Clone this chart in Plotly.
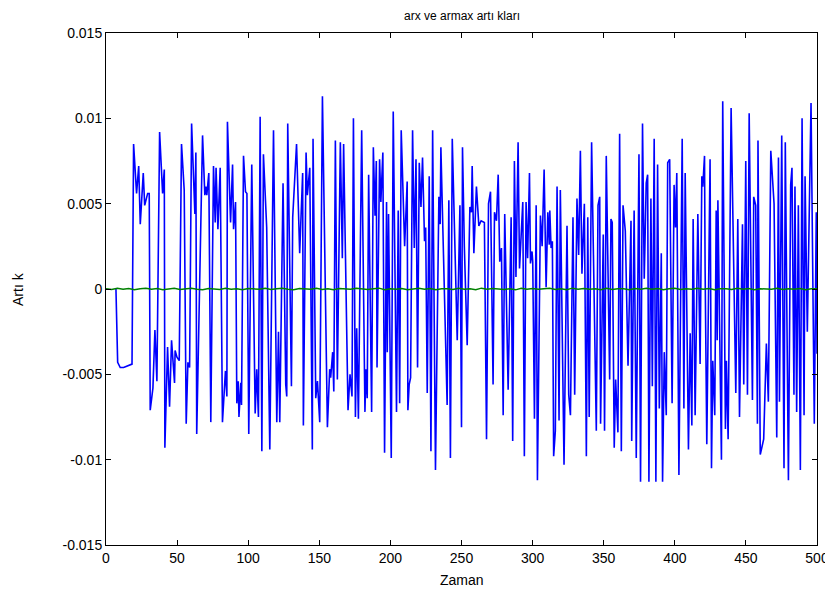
import plotly.graph_objects as go

# Blue series (arx residuals): time and residual vertices
blue_t = [7, 8.2, 10, 12.4, 18.3, 19.4, 21.5, 23, 24.1, 26.2, 27.2, 29.3, 30.4, 31.1, 33, 34.4, 35.8, 37.7, 39.8, 41,
          41.4, 43.3, 44.7, 46.1, 48.2, 48.6, 49.9, 51.5, 53.1, 55, 56.4, 57.6, 58.8, 60.2, 62.5, 63.2, 63.8, 67.9, 69.5, 70.2,
          70.9, 72.3, 73.7, 75.6, 76.8, 77.4, 78.7, 80.3, 81.9, 84, 85, 85.4, 87.6, 89, 89.7, 91.1, 92, 93, 93.5, 94.8,
          95.3, 96.7, 98.1, 99.1, 100.4, 102.5, 104.9, 106, 107.2, 108.4, 109.6, 110.7, 113, 115.2, 117.8, 120.1, 121.3, 122.2, 124.5, 126.4,
          127.1, 127.8, 130.4, 131.3, 134, 136.2, 138.3, 138.8, 140.7, 141.6, 143.3, 145.1, 145.6, 147.5, 148.7, 150.3, 152.2, 153.4, 155.7, 157.3,
          158, 159.4, 160.2, 161.3, 162.7, 164.8, 166.2, 167.1, 170.2, 171.6, 173, 174, 175.4, 176.3, 177.5, 179.8, 182.1, 182.8, 183.7, 184.7,
          186.8, 188, 189.2, 190.1, 190.6, 192.4, 193.3, 194.7, 195.9, 197.3, 197.8, 198.7, 200.6, 202, 204.3, 205.5, 206.5, 207.6, 210, 211.8,
          212.3, 213.2, 214.2, 215.6, 216.8, 218, 219.1, 220.3, 221.5, 222.6, 224, 224.8, 225.9, 227.3, 228.5, 229.7, 231.7, 234.1, 235, 235.5,
          237.6, 239.9, 241.1, 242.2, 243.5, 245.8, 247, 248.9, 250, 250.7, 252, 254, 255.9, 257, 257.5, 258.7, 260.5, 262.2, 263.8, 266.1,
          267.6, 269, 270.4, 272.2, 273.2, 274.6, 275.8, 276.9, 278.1, 279.3, 280.4, 282.8, 284.9, 286, 287.2, 288.3, 289.8, 290.8, 293.1, 294.2,
          295.4, 296.5, 297.8, 298.5, 299.6, 300.1, 301.3, 302.5, 303.4, 305.5, 306.7, 308.1, 309.5, 310.7, 311.7, 312.1, 313, 313.9, 314.8, 316,
          317.2, 318.6, 319.5, 322.1, 324.2, 325.4, 326.6, 328.4, 329.6, 331.2, 332.4, 333.6, 334.7, 336.4, 337.8, 338.8, 339.8, 341.5, 344.8, 346,
          347.2, 347.8, 349.7, 350.6, 351.8, 354.2, 355.1, 356, 357.4, 358.4, 360, 361.2, 362.4, 363.6, 365.2, 367.1, 369.2, 369.7, 371.4, 372.9,
          374.8, 375.9, 377.3, 378.5, 379.9, 380.9, 381.8, 383.2, 384.2, 385.5, 386.7, 387.9, 389.1, 390.5, 391.4, 392.6, 394, 395, 396.4, 398.1,
          399.5, 400.5, 401.4, 402.9, 405.2, 406.4, 407.3, 409.6, 410.8, 412, 412.9, 414.3, 416.2, 417.8, 419, 419.7, 420.9, 421.3, 422.5, 424.8,
          425.8, 426.7, 428.1, 429.1, 429.8, 430.3, 432.8, 433.7, 435.6, 436.3, 437.5, 439.6, 442.9, 444.3, 445.5, 447.6, 448.5, 449.9, 451.1, 452.3,
          454.6, 455.5, 456.9, 458.1, 458.5, 460.1, 462.5, 464.4, 465.8, 467.5, 469.8, 471.7, 472.9, 473.6, 475.2, 476.8, 477.7, 479.9, 481.5, 482.4,
          483.8, 484.5, 485.7, 486.9, 488.3, 489.5, 490.9, 491.6, 493.2, 495.8, 498.1, 499.5, 500]
blue_r = [0, -0.0043, -0.0046, -0.0046, -0.0044, 0.0085, 0.0056, 0.0072, 0.0038, 0.0068, 0.0049, 0.0056, 0.0056, -0.0071, -0.0058, -0.0024, -0.0054, 0.0092, 0.0056, 0.007,
          -0.0093, -0.0034, -0.0069, -0.003, -0.0055, -0.0036, -0.004, -0.0042, 0.0085, 0.0058, -0.0079, -0.0043, -0.0046, 0.0097, 0.0044, 0.008, -0.0085, 0.009, 0.0055, 0.006,
          0.0055, 0.0068, -0.0078, 0.0072, 0.0039, 0.0071, 0.0035, 0.0071, -0.0078, -0.0048, -0.0063, 0.0098, 0.0039, 0.0073, 0.0035, 0.0051, -0.0067, -0.0054, -0.0075, -0.0055,
          -0.0068, 0.0078, 0.0057, 0.0056, -0.0085, 0.0073, -0.0073, -0.0047, -0.0075, 0.0101, -0.0095, 0.0079, 0.0036, -0.0094, 0.0093, -0.0078, -0.0025, -0.0078, 0.0062, -0.0056,
          -0.0063, 0.0097, -0.0057, 0.0042, 0.0085, 0.0021, 0.0068, -0.008, 0.008, 0.0055, 0.0071, -0.0094, 0.0088, -0.0064, -0.0054, -0.0078, 0.0113, 0.004, -0.0081, -0.0047,
          -0.0052, -0.0037, -0.006, 0.0087, -0.0053, 0.0086, 0.0018, 0.0085, -0.0071, -0.005, -0.0063, 0.01, -0.0075, -0.0023, -0.0076, 0.0093, -0.0072, -0.0047, -0.0064, 0.0067,
          -0.0072, 0.0083, 0.0043, 0.0075, -0.0046, 0.0076, 0.0051, 0.008, -0.0096, 0.0051, -0.0037, 0.0044, -0.0099, 0.0104, -0.0072, 0.0046, -0.0067, 0.0093, 0.0025, 0.0063,
          -0.0071, -0.0056, -0.0052, 0.0093, 0.0024, 0.0076, -0.0046, 0.0074, 0.0048, 0.0077, 0.0028, 0.0036, -0.0061, 0.0066, -0.0095, 0.0093, -0.0106, 0.0054, 0.0038, 0.0083,
          0.0015, -0.0068, 0.0052, -0.0099, 0.0088, 0.0013, -0.003, 0.0049, -0.0081, 0.0083, 0.0025, -0.0033, 0.0048, 0.0045, 0.0072, 0.0021, 0.006, 0.0037, 0.004, 0.0039,
          -0.0088, 0.005, 0.0057, -0.0056, 0.0045, 0.004, 0.0067, 0.0016, 0.0024, -0.0074, 0.0044, -0.0059, 0.0042, -0.0089, 0.0075, 0.0007, 0.0086, 0.0012, 0.0051, -0.0098,
          0.0051, 0.0018, 0.0068, 0.0015, 0.0022, 0.0016, -0.0076, 0.0049, -0.0112, 0.0043, 0.0025, 0.007, 0.0001, 0.0045, 0.0026, 0.0046, 0.0024, 0.0028, -0.0098, -0.0083,
          0.006, -0.0077, 0.0058, -0.0103, 0.0037, -0.0062, -0.0074, 0.0042, -0.0062, 0.0053, 0.002, 0.0081, 0.0009, 0.005, -0.0098, 0.0042, -0.0075, 0.0086, -0.0083, 0.0049,
          0.0054, -0.0079, 0.0032, -0.0083, 0.0078, -0.0053, 0.0041, 0.0039, -0.0093, -0.0053, -0.0084, 0.0091, -0.0095, 0.0049, 0.0034, -0.0045, 0.004, -0.0089, 0.0046, -0.0099,
          0.0079, -0.0113, 0.0097, 0.0006, 0.0062, 0.0067, -0.0113, 0.0053, -0.0057, 0.0088, -0.0113, 0.0073, -0.007, 0.0021, -0.0113, -0.0037, -0.0074, 0.0074, 0.0076, -0.0067,
          0.0061, 0.0036, 0.0068, -0.0109, 0.0088, -0.007, 0.0068, -0.0094, -0.0026, -0.008, 0.0041, -0.0074, 0.0044, -0.0044, 0.0066, 0.006, 0.0078, 0.0013, -0.0091, 0.0076,
          -0.0105, -0.0042, -0.0074, 0.0046, -0.003, 0.0052, -0.01, 0.011, -0.0082, -0.0042, -0.0088, 0.0106, -0.0061, 0.0041, -0.0075, 0.0038, -0.0056, 0.0075, -0.0062, 0.0103,
          -0.0065, 0.0054, 0.0049, -0.0079, 0.0087, -0.0097, -0.0088, -0.0032, -0.0066, 0.0081, 0.005, -0.0087, 0.0077, -0.0066, 0.009, -0.0105, 0.0086, -0.0112, 0.0061, 0.0071,
          -0.0062, 0.006, -0.0072, 0.0049, -0.0106, 0.01, -0.0074, 0.0066, -0.0025, 0.0109, -0.0079, 0.0045, -0.0038]

# Green series (armax residuals): tiny wiggle around zero, sampled every 4 steps
green_t = list(range(0, 501, 4))
green_r = [0.00002, -0.00003, 0.00004, -0.00001, 0.00003, -0.00004, 0.00001, 0.00005, -0.00002, 0.00003,
           -0.00004, 0.00002, 0.00004, -0.00003, 0.00001, 0.00005, -0.00002, -0.00004, 0.00003, 0.00001,
           -0.00003, 0.00004, -0.00001, 0.00002, -0.00005, 0.00003, 0.00001, -0.00002, 0.00004, -0.00003,
           0.00002, 0.00005, -0.00001, -0.00004, 0.00003, 0.00001, -0.00002, 0.00004, -0.00003, 0.00002,
           -0.00005, 0.00003, 0.00001, -0.00002, 0.00004, 0.00002, -0.00003, 0.00001, 0.00005, -0.00004,
           0.00002, -0.00001, 0.00003, -0.00004, 0.00001, 0.00004, -0.00002, 0.00003, -0.00005, 0.00002,
           0.00001, -0.00003, 0.00004, -0.00001, 0.00002, -0.00004, 0.00005, -0.00002, 0.00003, 0.00001,
           -0.00003, 0.00002, -0.00005, 0.00004, -0.00001, 0.00003, -0.00002, 0.00001, 0.00004, -0.00003,
           0.00002, -0.00004, 0.00005, -0.00001, 0.00003, -0.00002, 0.00001, -0.00004, 0.00004, -0.00003,
           0.00002, 0.00001, -0.00005, 0.00003, -0.00001, 0.00004, -0.00002, 0.00003, -0.00004, 0.00001,
           0.00005, -0.00003, 0.00002, -0.00001, 0.00004, -0.00002, 0.00003, -0.00005, 0.00001, 0.00002,
           -0.00003, 0.00004, -0.00001, 0.00003, -0.00004, 0.00002, 0.00001, -0.00002, 0.00004, -0.00003,
           0.00002, -0.00001, 0.00003, -0.00004, 0.00002, 0.00001]

x_ticks = [0, 50, 100, 150, 200, 250, 300, 350, 400, 450, 500]
y_ticks = [-0.015, -0.01, -0.005, 0, 0.005, 0.01, 0.015]
y_tick_labels = ["-0.015", "-0.01", "-0.005", "0", "0.005", "0.01", "0.015"]

FONT = "Liberation Sans, Arial"
OFF = 8  # page body margin offsets the figure inside the browser window
W, H = 833 - OFF, 599 - OFF
L, T = 106 - OFF, 33 - OFF
R = W - (817 - OFF)
B = H - (545 - OFF)
plot_w = W - L - R
plot_h = H - T - B


def px_x(px):
    return (px - OFF - L) / plot_w


def px_y(py):
    return 1 - (py - OFF - T) / plot_h


fig = go.Figure()
fig.add_trace(go.Scatter(x=blue_t, y=blue_r, mode="lines",
                         line=dict(color="#0000ff", width=1.6), showlegend=False))
fig.add_trace(go.Scatter(x=green_t, y=green_r[:len(green_t)], mode="lines",
                         line=dict(color="#008000", width=1.5), showlegend=False))

axis_common = dict(showline=True, linecolor="black", linewidth=1, mirror="ticks",
                   ticks="inside", ticklen=5, tickcolor="black", showgrid=False,
                   zeroline=False, automargin=False,
                   tickfont=dict(family=FONT, size=14, color="black"))

fig.update_layout(
    width=W, height=H,
    margin=dict(l=L, r=R, t=T, b=B, autoexpand=False),
    paper_bgcolor="white", plot_bgcolor="white",
    xaxis=dict(range=[0, 500], tickvals=x_ticks, **axis_common),
    yaxis=dict(range=[-0.015, 0.015], tickvals=y_ticks, ticktext=y_tick_labels, **axis_common),
    annotations=[
        dict(text="arx ve armax artı kları", xref="paper", yref="paper",
             x=px_x(462), y=px_y(16), xanchor="center", yanchor="middle",
             showarrow=False, font=dict(family=FONT, size=12, color="black")),
        dict(text="Zaman", xref="paper", yref="paper",
             x=px_x(462), y=px_y(580), xanchor="center", yanchor="middle",
             showarrow=False, font=dict(family=FONT, size=14, color="black")),
        dict(text="Artı k", xref="paper", yref="paper",
             x=px_x(18), y=px_y(289), xanchor="center", yanchor="middle", textangle=-90,
             showarrow=False, font=dict(family=FONT, size=14, color="black")),
    ],
)

fig.write_html("out.html")
